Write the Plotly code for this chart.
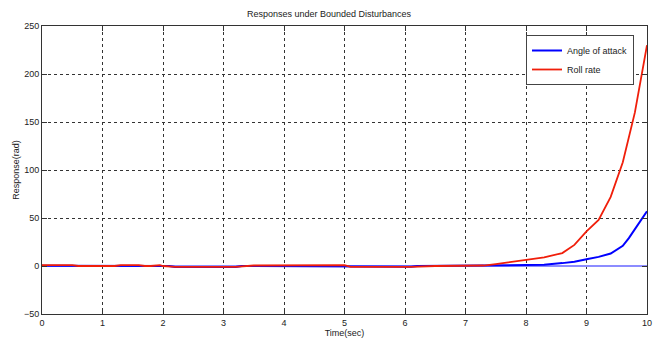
import plotly.graph_objects as go

# Data
red_t = [0, 0.5, 0.6, 1.2, 1.3, 1.6, 1.7, 1.8, 1.95, 2.0, 2.2, 3.2, 3.5, 4.8, 5.0, 5.1, 6.1, 6.5,
         7.0, 7.3, 7.5, 7.8, 8.0, 8.3, 8.6, 8.8, 9.0, 9.2, 9.4, 9.6, 9.8, 10.0]
red_v = [1, 1, 0, 0, 1, 1, 0, 0, 1, 0, -1, -1, 0.5, 0.5, 1, -1, -1, 0,
         0, 0.5, 2, 4.5, 6.5, 9, 13.5, 22, 36, 48, 72, 108, 160, 230]

blue_t = [0, 0.5, 0.6, 2.1, 2.2, 3.2, 3.3, 5.1, 6.1, 6.2, 7.3, 8.0, 8.3, 8.6, 8.8, 9.0,
          9.2, 9.4, 9.6, 9.7, 9.8, 9.9, 10.0]
blue_v = [0.3, 0.3, 0, 0, -1, -1, 0, -0.7, -0.7, 0, 0.3, 0.8, 1.2, 3, 4.5, 7,
          9.5, 13, 21, 29, 38, 47, 57]

x_ticks = [0, 1, 2, 3, 4, 5, 6, 7, 8, 9, 10]
y_ticks = [-50, 0, 50, 100, 150, 200, 250]

font_family = "Liberation Sans Narrow, Arial Narrow, Liberation Sans, Arial, sans-serif"

fig = go.Figure()
fig.add_trace(go.Scatter(x=blue_t, y=blue_v, mode="lines", name="Angle of attack",
                         line=dict(color="#0000ff", width=2)))
fig.add_trace(go.Scatter(x=red_t, y=red_v, mode="lines", name="Roll rate",
                         line=dict(color="#f01e0a", width=1.8)))

axis_common = dict(
    showline=True, linecolor="#333333", linewidth=1, mirror="ticks",
    ticks="inside", ticklen=5, tickcolor="#333333", automargin=False,
    showgrid=True, gridcolor="#333333", gridwidth=1, griddash="3px,3px",
    tickfont=dict(size=9, color="#222222", family=font_family),
)

fig.update_xaxes(range=[0, 10], tickvals=x_ticks, zeroline=False,
                 title=dict(text="Time(sec)", font=dict(size=9, family=font_family, color="#222222"),
                            standoff=2),
                 **axis_common)
fig.update_yaxes(range=[-50, 250], tickvals=y_ticks,
                 zeroline=True, zerolinecolor="#8c8cff", zerolinewidth=2,
                 title=dict(text="Response(rad)", font=dict(size=9, family=font_family, color="#222222"),
                            standoff=2),
                 **axis_common)

fig.update_layout(
    width=658, height=345,
    margin=dict(l=42, r=11, t=26, b=31),
    paper_bgcolor="white", plot_bgcolor="white",
    title=dict(text="Responses under Bounded Disturbances", x=0.5, xanchor="center",
               y=1 - 14 / 345, yanchor="middle",
               font=dict(size=9, family=font_family, color="#222222")),
    legend=dict(x=(526 - 42) / 605, y=1 - 9 / 288, xanchor="left", yanchor="top",
                bgcolor="white", bordercolor="#444444", borderwidth=1,
                font=dict(size=9, family=font_family, color="#222222"),
                itemwidth=30, tracegroupgap=0),
    showlegend=True,
)

fig.write_html("out.html", config={"displayModeBar": False},
               post_script="document.body.style.margin='0';document.body.style.overflow='hidden';")
